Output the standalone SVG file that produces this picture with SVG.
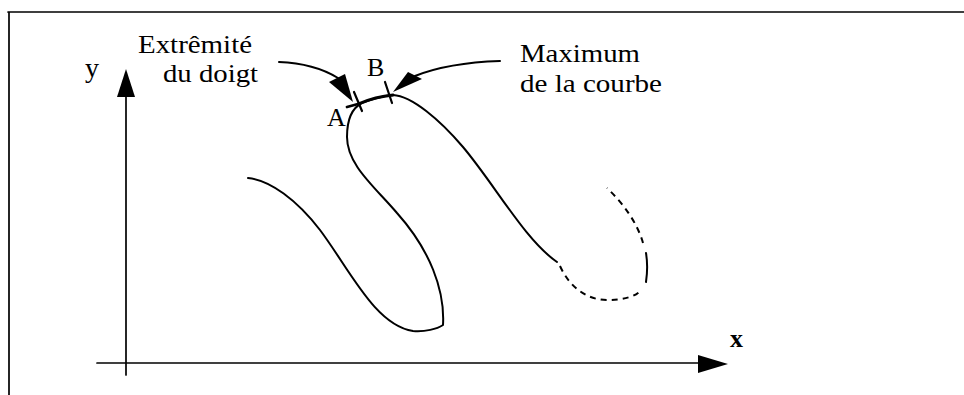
<svg xmlns="http://www.w3.org/2000/svg" width="964" height="395" viewBox="0 0 964 395">
<style>
.t{font-family:"Liberation Serif","Times New Roman",serif;font-size:26px;fill:#000}
.ln{fill:none;stroke:#000;stroke-width:1.7;stroke-linecap:round}
.cv{fill:none;stroke:#000;stroke-width:2;stroke-linecap:round;stroke-linejoin:round}
.ds{fill:none;stroke:#000;stroke-width:2;stroke-dasharray:6 5}
.hd{fill:#000;stroke:none}
</style>
<rect width="964" height="395" fill="#fff"/>
<g id="frame">
<path class="ln" d="M8,12 H964 M9,12 V395"/>
</g>
<g id="axes">
<path class="ln" d="M126,96 V375"/>
<polygon class="hd" points="126,69 135,97 117,97"/>
<path class="ln" d="M97,363 H700"/>
<polygon class="hd" points="728,364 698,355 698,373"/>
<text class="t" x="85" y="77" style="font-size:28px">y</text>
<text class="t" x="730" y="347" style="font-size:26px;font-weight:bold">x</text>
</g>
<g id="curve">
<path class="cv" d="M248,178 C270,180 297,200 320,230 C350,270 375,325 413,331 C425,332 437,329 443,325 C445,290 430,250 397,213 C375,187 347,165 347,137 C347,120 352,108 362,103 C372,99 383,96 393,95 C412,96 440,120 463,147 C495,185 525,240 557,262"/>
<path class="cv" style="stroke-width:2.8" d="M347,107 L358,104 C370,99 382,96 393,95"/>
<path class="ds" d="M560,266 C569,286 586,300 607,300 C622,300 636,297 641,290"/>
<path class="cv" d="M646,282 C647.5,272 647.5,262 646,253"/>
<path class="ds" d="M643,243 C638,225 625,205 607,188"/>
</g>
<g id="point-A">
<path class="cv" style="stroke-width:2.2" d="M354,92 L362,111"/>
<text class="t" x="327" y="126">A</text>
</g>
<g id="point-B">
<path class="cv" style="stroke-width:2.2" d="M385,82 L392,103"/>
<text class="t" x="367" y="76">B</text>
</g>
<g id="label-extremite">
<text class="t" x="138" y="53" textLength="114" lengthAdjust="spacingAndGlyphs">Extrêmité</text>
<text class="t" x="163" y="82" textLength="95" lengthAdjust="spacingAndGlyphs">du doigt</text>
</g>
<g id="label-maximum">
<text class="t" x="520" y="62" textLength="120" lengthAdjust="spacingAndGlyphs">Maximum</text>
<text class="t" x="520" y="92" textLength="142" lengthAdjust="spacingAndGlyphs">de la courbe</text>
</g>
<g id="connectors">
<path class="cv" d="M279,62 C305,63 325,70 338,78"/>
<polygon class="hd" points="353,102 329,82 345,74"/>
<path class="cv" d="M500,61 C470,62 440,66 415,76"/>
<polygon class="hd" points="393,92 408,72 422,79"/>
</g>
</svg>
